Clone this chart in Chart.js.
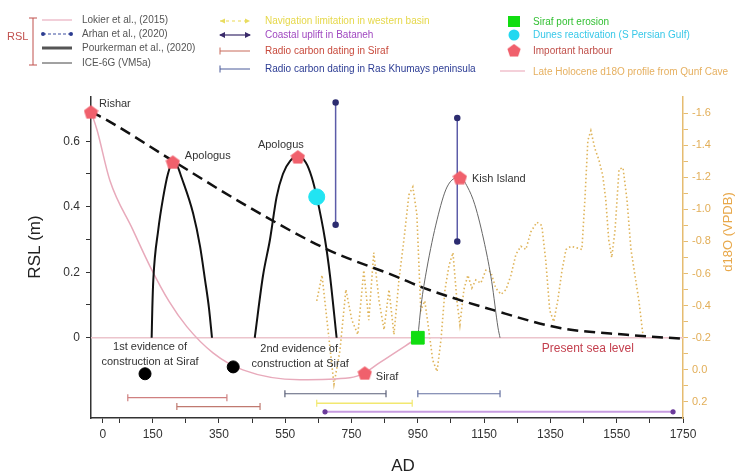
<!DOCTYPE html>
<html>
<head>
<meta charset="utf-8">
<script src="https://cdn.jsdelivr.net/npm/chart.js@4.4.1/dist/chart.umd.min.js"></script>
<style>
html, body { margin: 0; padding: 0; background: #fff; }
canvas { display: block; }
</style>
</head>
<body>
<canvas id="chart" width="744" height="475"></canvas>
<script>
// ---- tick labels ----
const yearTicks = [0, 150, 350, 550, 750, 950, 1150, 1350, 1550, 1750];
const yearMinor = [50, 250, 450, 650, 850, 1050, 1250, 1450, 1650];
const rslTicks = [0, 0.2, 0.4, 0.6];
const rslMinor = [0.1, 0.3, 0.5];
const d18oTicks = [-1.6, -1.4, -1.2, -1.0, -0.8, -0.6, -0.4, -0.2, 0.0, 0.2];
const d18oMinor = [-1.5, -1.3, -1.1, -0.9, -0.7, -0.5, -0.3, -0.1, 0.1];

// ---- RSL curves ----
const iceYears = [-36, 20, 211, 430, 676, 887, 965, 1176, 1379, 1581, 1750];
const iceRsl = [0.69, 0.66, 0.54, 0.405, 0.27, 0.186, 0.153, 0.085, 0.03, 0.009, -0.003];

const lokierYears = [-36, -18, 21, 90, 142, 200, 253, 332, 422, 594, 745, 790, 835, 950];
const lokierRsl = [0.69, 0.635, 0.48, 0.33, 0.218, 0.11, 0.034, -0.046, -0.098, -0.128, -0.122, -0.107, -0.076, 0];

const arch1Years = [147, 149, 152, 167, 182, 196, 211, 224, 237, 272, 293, 308, 320, 329];
const arch1Rsl = [0, 0.09, 0.177, 0.33, 0.43, 0.5, 0.537, 0.525, 0.49, 0.38, 0.279, 0.177, 0.09, 0];

const arch2Years = [458, 483, 504, 524, 543, 565, 588, 612, 630, 645, 670, 685, 705];
const arch2Rsl = [0, 0.19, 0.3, 0.43, 0.5, 0.54, 0.553, 0.535, 0.49, 0.43, 0.3, 0.19, 0];

const arch3Years = [950, 960, 977, 1008, 1038, 1077, 1100, 1122, 1152, 1173, 1192, 1198];
const arch3Rsl = [0, 0.1, 0.21, 0.36, 0.46, 0.49, 0.46, 0.406, 0.284, 0.171, 0.03, 0];

const seaLevelYears = [-36, 1750];
const seaLevelRsl = [0, 0];

// ---- uplift arrows (Arhan) ----
const upliftYears = [702, 1069];
const upliftLow = [0.345, 0.294];
const upliftHigh = [0.718, 0.671];

// ---- dating ranges ----
const sirafStart = [75, 223];
const sirafEnd = [374, 474];
const sirafRsl = [-0.183, -0.21];
const rasStart = [549, 950];
const rasEnd = [854, 1198];
const rasRsl = [-0.171, -0.171];
const navYears = [645, 933];
const navRsl = [-0.2, -0.2];
const batanehYears = [670, 1720];
const batanehRsl = [-0.226, -0.226];

// ---- markers ----
const harbourNames = ['Rishar', 'Apologus', 'Apologus', 'Kish Island', 'Siraf'];
const harbourYears = [-36, 211, 588, 1077, 790];
const harbourRsl = [0.69, 0.537, 0.553, 0.49, -0.107];
const evidenceYears = [127, 393];
const evidenceRsl = [-0.11, -0.089];
const duneYears = [645];
const duneRsl = [0.43];
const erosionYears = [950];
const erosionRsl = [0.0];

// ---- d18O Qunf Cave ----
const qunfYears = [645, 661, 679, 697, 715, 733, 751, 769, 787, 802, 817, 833, 848, 863, 878, 893, 908, 923, 935, 947,
  959, 971, 983, 995, 1008, 1020, 1032, 1044, 1056, 1068, 1077, 1089, 1101, 1113, 1125, 1140, 1155, 1170, 1185, 1201,
  1216, 1231, 1246, 1261, 1276, 1291, 1309, 1324, 1336, 1348, 1360, 1372, 1385, 1397, 1412, 1430, 1445, 1454, 1463, 1472,
  1484, 1496, 1508, 1517, 1526, 1535, 1545, 1557, 1569, 1581, 1593, 1605, 1617, 1629];
const qunfD18O = [-0.43, -0.59, -0.25, 0.09, -0.12, -0.5, -0.31, -0.22, -0.62, -0.31, -0.73, -0.43, -0.25, -0.5, -0.22, -0.56, -0.81, -1.09, -1.14, -0.97,
  -0.37, -0.43, -0.25, -0.06, 0.01, -0.19, -0.5, -0.65, -0.73, -0.43, -0.28, -0.5, -0.59, -0.51, -0.56, -0.54, -0.62, -0.61, -0.51, -0.47,
  -0.5, -0.59, -0.72, -0.77, -0.75, -0.86, -0.92, -0.9, -0.68, -0.37, -0.3, -0.43, -0.62, -0.75, -0.77, -0.76, -0.75, -1.06, -1.43, -1.49,
  -1.38, -1.31, -1.21, -1.06, -0.81, -0.7, -0.87, -1.25, -1.26, -1.06, -0.75, -0.59, -0.43, -0.22];

const FONT = '"Liberation Sans", Arial, sans-serif';

function xy(xs, ys) {
  return xs.map((x, i) => ({x: x, y: ys[i]}));
}

function pentagon(size, color) {
  const c = document.createElement('canvas');
  c.width = size; c.height = size;
  const g = c.getContext('2d');
  const r = size / 2;
  g.fillStyle = color;
  g.beginPath();
  for (let i = 0; i < 5; i++) {
    const a = -Math.PI / 2 + i * 2 * Math.PI / 5;
    const px = r + r * Math.cos(a), py = r + 1 + r * Math.sin(a);
    if (i === 0) g.moveTo(px, py); else g.lineTo(px, py);
  }
  g.closePath();
  g.fill();
  return c;
}
const harbourIcon = pentagon(15, '#f0606c');

function rangeSet(xs, y, color, caps) {
  return {
    data: xy(xs, [y, y]),
    borderColor: color,
    borderWidth: 1.2,
    pointStyle: caps,
    rotation: caps === 'line' ? 90 : 0,
    pointRadius: caps === 'line' ? 3.5 : 2,
    pointBorderColor: color,
    pointBackgroundColor: color,
    pointBorderWidth: 1.2
  };
}

const datasets = [
  {data: xy(harbourYears, harbourRsl), showLine: false, pointStyle: harbourIcon, pointRadius: 8, clip: false},
  {data: xy(erosionYears, erosionRsl), showLine: false, pointStyle: 'rect', pointRadius: 9,
    pointBackgroundColor: '#11dd11', pointBorderColor: '#11dd11'},
  {data: xy(duneYears, duneRsl), showLine: false, pointStyle: 'circle', pointRadius: 8,
    pointBackgroundColor: '#22e4f2', pointBorderColor: '#22e4f2'},
  {data: xy(evidenceYears, evidenceRsl), showLine: false, pointStyle: 'circle', pointRadius: 6,
    pointBackgroundColor: '#000', pointBorderColor: '#000'},
  {data: xy([upliftYears[0], upliftYears[0]], [upliftLow[0], upliftHigh[0]]), borderColor: '#5c5ca8', borderWidth: 1.5,
    pointRadius: 2.5, pointBackgroundColor: '#2c2c70', pointBorderColor: '#2c2c70'},
  {data: xy([upliftYears[1], upliftYears[1]], [upliftLow[1], upliftHigh[1]]), borderColor: '#5c5ca8', borderWidth: 1.5,
    pointRadius: 2.5, pointBackgroundColor: '#2c2c70', pointBorderColor: '#2c2c70'},
  rangeSet([sirafStart[0], sirafEnd[0]], sirafRsl[0], '#cf8080', 'line'),
  rangeSet([sirafStart[1], sirafEnd[1]], sirafRsl[1], '#c07a70', 'line'),
  rangeSet([rasStart[0], rasEnd[0]], rasRsl[0], '#5a5f78', 'line'),
  rangeSet([rasStart[1], rasEnd[1]], rasRsl[1], '#6470a0', 'line'),
  Object.assign(rangeSet(navYears, navRsl[0], '#f2e870', 'line'), {borderWidth: 1.5}),
  Object.assign(rangeSet(batanehYears, batanehRsl[0], '#c79ce0', 'circle'), {borderWidth: 2, pointBackgroundColor: '#6a3a9a', pointBorderColor: '#6a3a9a'}),
  {data: xy(arch1Years, arch1Rsl), borderColor: '#111', borderWidth: 2, cubicInterpolationMode: 'monotone'},
  {data: xy(arch2Years, arch2Rsl), borderColor: '#111', borderWidth: 2, cubicInterpolationMode: 'monotone'},
  {data: xy(arch3Years, arch3Rsl), borderColor: '#666', borderWidth: 1, cubicInterpolationMode: 'monotone'},
  {data: xy(iceYears, iceRsl), borderColor: '#111', borderWidth: 2.5, borderDash: [11, 6], cubicInterpolationMode: 'monotone'},
  {data: xy(lokierYears, lokierRsl), borderColor: '#e8aabb', borderWidth: 1.5, cubicInterpolationMode: 'monotone', clip: false},
  {data: xy(seaLevelYears, seaLevelRsl), borderColor: '#ecc4cc', borderWidth: 1.5},
  {data: xy(qunfYears, qunfD18O), yAxisID: 'y2', borderColor: '#dfb45a', borderWidth: 1.6, borderDash: [1.5, 2.5]}
];

function minorTicks(major, minor) {
  return function(scale) {
    scale.ticks = major.concat(minor).sort((a, b) => a - b).map(v => ({value: v}));
  };
}

const decorations = {
  id: 'decorations',
  afterDraw(chart) {
    const ctx = chart.ctx;
    const sx = chart.scales.x, sy = chart.scales.y;
    const line = (x1, y1, x2, y2) => { ctx.beginPath(); ctx.moveTo(x1, y1); ctx.lineTo(x2, y2); ctx.stroke(); };
    ctx.save();

    // axis titles
    ctx.fillStyle = '#222';
    ctx.font = '17px ' + FONT;
    ctx.textAlign = 'center';
    ctx.textBaseline = 'middle';
    ctx.fillText('AD', 403, 466);
    ctx.save(); ctx.translate(35, 247); ctx.rotate(-Math.PI / 2); ctx.fillText('RSL (m)', 0, 0); ctx.restore();
    ctx.fillStyle = '#e8a84a';
    ctx.font = '13px ' + FONT;
    ctx.save(); ctx.translate(728, 232); ctx.rotate(-Math.PI / 2); ctx.fillText('d18O (VPDB)', 0, 0); ctx.restore();

    // labels next to markers
    ctx.font = '11px ' + FONT;
    ctx.fillStyle = '#333';
    const px = i => sx.getPixelForValue(harbourYears[i]);
    const py = i => sy.getPixelForValue(harbourRsl[i]);
    ctx.textAlign = 'left';
    ctx.fillText(harbourNames[0], px(0) + 8, py(0) - 8);
    ctx.fillText(harbourNames[1], px(1) + 12, py(1) - 6);
    ctx.textAlign = 'center';
    ctx.fillText(harbourNames[2], px(2) - 17, py(2) - 12);
    ctx.textAlign = 'left';
    ctx.fillText(harbourNames[3], px(3) + 12, py(3) + 2);
    ctx.fillText(harbourNames[4], px(4) + 11, py(4) + 4);

    ctx.textAlign = 'center';
    const ex0 = sx.getPixelForValue(evidenceYears[0]), ey0 = sy.getPixelForValue(evidenceRsl[0]);
    const ex1 = sx.getPixelForValue(evidenceYears[1]), ey1 = sy.getPixelForValue(evidenceRsl[1]);
    ctx.fillText('1st evidence of', ex0 + 5, ey0 - 27);
    ctx.fillText('construction at Siraf', ex0 + 5, ey0 - 12);
    ctx.fillText('2nd evidence of', ex1 + 66, ey1 - 18);
    ctx.fillText('construction at Siraf', ex1 + 67, ey1 - 3);

    ctx.textAlign = 'left';
    ctx.font = '12px ' + FONT;
    ctx.fillStyle = '#c4404f';
    ctx.fillText('Present sea level', sx.getPixelForValue(1324), sy.getPixelForValue(0) + 11);

    // ---- legend ----
    ctx.font = '10px ' + FONT;
    ctx.textAlign = 'left';
    ctx.textBaseline = 'middle';
    // RSL bracket
    ctx.strokeStyle = '#c0504d'; ctx.lineWidth = 1;
    line(33, 18, 33, 65); line(29, 18, 37, 18); line(29, 65, 37, 65);
    ctx.fillStyle = '#c0504d';
    ctx.font = '11px ' + FONT;
    ctx.fillText('RSL', 7, 37);
    ctx.font = '10px ' + FONT;

    const col1 = [
      ['Lokier et al., (2015)', 20], ['Arhan et al., (2020)', 34],
      ['Pourkerman et al., (2020)', 48], ['ICE-6G (VM5a)', 63]
    ];
    ctx.strokeStyle = '#eab0c0'; ctx.lineWidth = 1.2; line(42, 20, 72, 20);
    ctx.strokeStyle = '#3d4fa0'; ctx.lineWidth = 1.2; ctx.setLineDash([3, 2]); line(43, 34, 71, 34); ctx.setLineDash([]);
    ctx.fillStyle = '#2c3c90';
    ctx.beginPath(); ctx.arc(43, 34, 2, 0, Math.PI * 2); ctx.arc(71, 34, 2, 0, Math.PI * 2); ctx.fill();
    ctx.strokeStyle = '#555'; ctx.lineWidth = 3; line(42, 48, 72, 48);
    ctx.strokeStyle = '#444'; ctx.lineWidth = 1; line(42, 63, 72, 63);
    ctx.fillStyle = '#555';
    col1.forEach(r => ctx.fillText(r[0], 82, r[1]));

    // column 2
    ctx.strokeStyle = '#eee070'; ctx.lineWidth = 1.2; ctx.setLineDash([3, 3]); line(220, 21, 250, 21); ctx.setLineDash([]);
    ctx.fillStyle = '#e8dc60';
    ctx.beginPath(); ctx.moveTo(250, 21); ctx.lineTo(245, 18.5); ctx.lineTo(245, 23.5); ctx.fill();
    ctx.beginPath(); ctx.moveTo(220, 21); ctx.lineTo(225, 18.5); ctx.lineTo(225, 23.5); ctx.fill();
    ctx.strokeStyle = '#3a2a6a'; ctx.lineWidth = 1.2; line(220, 35, 250, 35);
    ctx.fillStyle = '#3a2a6a';
    ctx.beginPath(); ctx.moveTo(251, 35); ctx.lineTo(245, 32); ctx.lineTo(245, 38); ctx.fill();
    ctx.beginPath(); ctx.moveTo(219, 35); ctx.lineTo(225, 32); ctx.lineTo(225, 38); ctx.fill();
    ctx.strokeStyle = '#c86a5a'; ctx.lineWidth = 1; line(220, 51, 250, 51); line(220, 47.5, 220, 54.5);
    ctx.strokeStyle = '#4a5a9a'; line(220, 69, 250, 69); line(220, 65.5, 220, 72.5);
    ctx.fillStyle = '#e6d84a'; ctx.fillText('Navigation limitation in western basin', 265, 21);
    ctx.fillStyle = '#a048c0'; ctx.fillText('Coastal uplift in Bataneh', 265, 35);
    ctx.fillStyle = '#c84a3c'; ctx.fillText('Radio carbon dating in Siraf', 265, 51);
    ctx.fillStyle = '#2c3c94'; ctx.fillText('Radio carbon dating in Ras Khumays peninsula', 265, 69);

    // column 3
    ctx.fillStyle = '#11dd11'; ctx.fillRect(508, 16, 12, 11);
    ctx.fillStyle = '#22d8f0'; ctx.beginPath(); ctx.arc(514, 35, 5.5, 0, Math.PI * 2); ctx.fill();
    ctx.drawImage(harbourIcon, 507, 43, 14, 14);
    ctx.strokeStyle = '#ecb0c0'; ctx.lineWidth = 1.2; line(500, 71, 525, 71);
    ctx.fillStyle = '#33c033'; ctx.fillText('Siraf port erosion', 533, 22);
    ctx.fillStyle = '#38c8e8'; ctx.fillText('Dunes reactivation (S Persian Gulf)', 533, 35);
    ctx.fillStyle = '#c0504a'; ctx.fillText('Important harbour', 533, 51);
    ctx.fillStyle = '#e6b060'; ctx.fillText('Late Holocene d18O profile from Qunf Cave', 533, 72);

    ctx.restore();
  }
};

new Chart(document.getElementById('chart'), {
  type: 'line',
  data: {datasets: datasets},
  options: {
    responsive: false,
    animation: false,
    events: [],
    devicePixelRatio: 1,
    layout: {padding: {top: 97, left: 0, right: 0, bottom: 0}},
    elements: {
      point: {radius: 0, hoverRadius: 0},
      line: {tension: 0, fill: false}
    },
    plugins: {legend: {display: false}, tooltip: {enabled: false}},
    scales: {
      x: {
        type: 'linear',
        min: -36, max: 1750,
        afterFit: s => { s.height = 57; },
        afterBuildTicks: minorTicks(yearTicks, yearMinor),
        grid: {drawOnChartArea: false, tickLength: 5, color: '#333', tickWidth: 1},
        border: {display: true, color: '#333', width: 1.5},
        ticks: {
          autoSkip: false, maxRotation: 0, padding: 4, color: '#333',
          font: {family: FONT, size: 12},
          callback: v => yearTicks.includes(v) ? String(v) : ''
        }
      },
      y: {
        type: 'linear', position: 'left',
        min: -0.245, max: 0.735,
        afterFit: s => { s.width = 91; },
        afterBuildTicks: minorTicks(rslTicks, rslMinor),
        grid: {drawOnChartArea: false, tickLength: 5, color: '#333'},
        border: {display: true, color: '#333', width: 1.5},
        ticks: {
          autoSkip: false, padding: 6, color: '#333',
          font: {family: FONT, size: 12},
          callback: v => rslTicks.includes(v) ? (v === 0 ? '0' : v.toFixed(1)) : ''
        }
      },
      y2: {
        type: 'linear', position: 'right',
        min: -1.7, max: 0.3, reverse: true,
        afterFit: s => { s.width = 61; },
        afterBuildTicks: minorTicks(d18oTicks, d18oMinor),
        grid: {drawOnChartArea: false, tickLength: 5, color: '#e6bc70'},
        border: {display: true, color: '#e6bc70', width: 1.5},
        ticks: {
          autoSkip: false, padding: 4, color: '#e2ae58',
          font: {family: FONT, size: 11},
          callback: v => d18oTicks.includes(v) ? v.toFixed(1) : ''
        }
      }
    }
  },
  plugins: [decorations]
});
</script>
</body>
</html>
